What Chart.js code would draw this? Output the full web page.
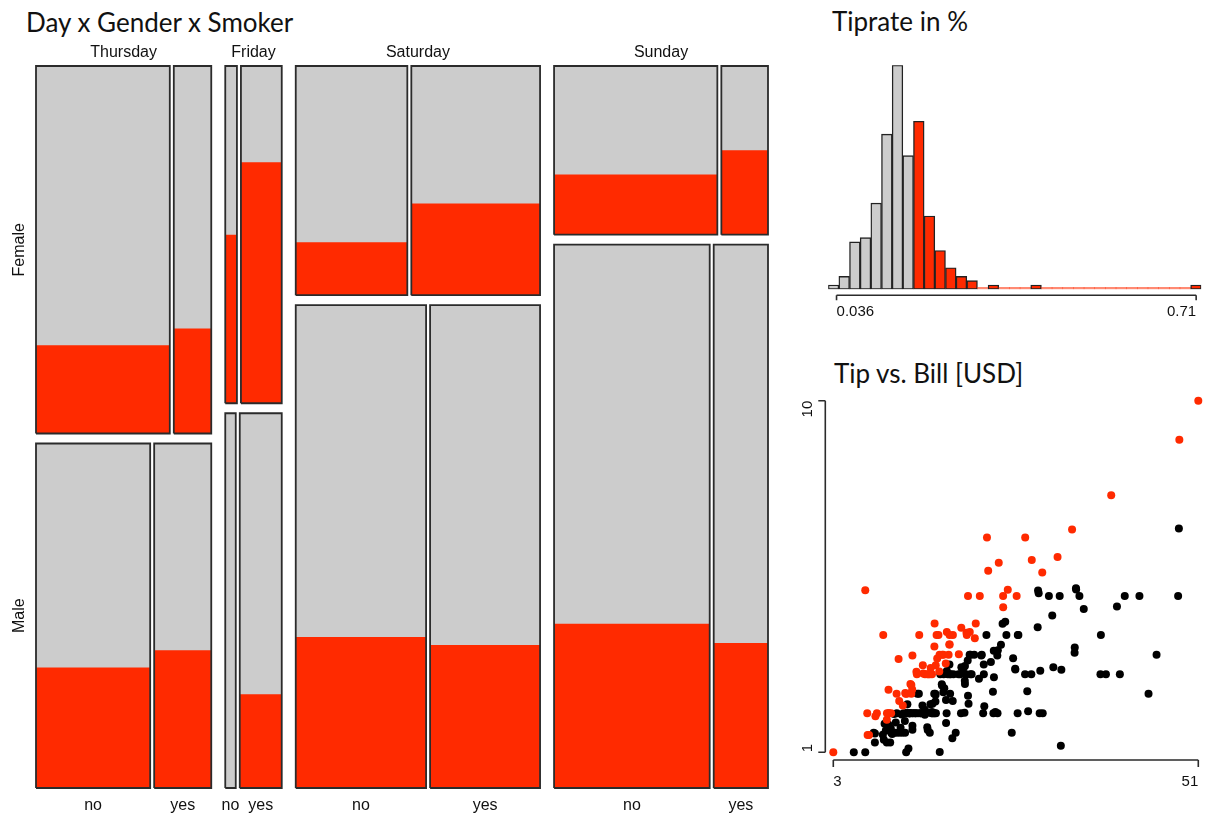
<!DOCTYPE html>
<html>
<head>
<meta charset="utf-8">
<title>Tips</title>
<script src="https://cdn.jsdelivr.net/npm/chart.js@4.4.1/dist/chart.umd.min.js"></script>
<style>
  body { margin: 0; background: #fff; width: 1209px; height: 814px; position: relative; overflow: hidden; }
  canvas { position: absolute; }
  h2 { position: absolute; margin: 0; font: 26px Lato, sans-serif; font-weight: normal; line-height: 1; color: #111; white-space: nowrap; }
</style>
</head>
<body>
<h2 style="left:26px;top:9px">Day x Gender x Smoker</h2>
<h2 style="left:832px;top:8px">Tiprate in %</h2>
<h2 style="left:834px;top:360px">Tip vs. Bill [USD]</h2>
<canvas id="mosaic" width="800" height="814" style="left:0;top:0"></canvas>
<canvas id="hist" width="409" height="340" style="left:800px;top:0"></canvas>
<canvas id="scatter" width="409" height="474" style="left:800px;top:340px"></canvas>
<script>
// mosaic: guests per day, split by gender and smoker
const days = ['Thursday', 'Friday', 'Saturday', 'Sunday'];
const genders = ['Female', 'Male'];
const smokers = ['no', 'yes'];
const femaleNo = [25, 2, 13, 14];
const femaleYes = [7, 7, 15, 4];
const maleNo = [20, 2, 32, 43];
const maleYes = [10, 8, 27, 15];
// how many of them tipped 18% or more (red selection)
const femaleNoHigh = [6, 1, 3, 5];
const femaleYesHigh = [2, 5, 6, 2];
const maleNoHigh = [7, 0, 10, 13];
const maleYesHigh = [4, 2, 8, 4];

// histogram of tip rate, bins of 0.02 starting at 0.02
const binStart = 0.02;
const binWidth = 0.02;
const binCounts = [1, 3, 11, 12, 20, 36, 52, 31, 39, 17, 9, 5, 3, 2, 0, 1, 0, 0, 0, 1,
  0, 0, 0, 0, 0, 0, 0, 0, 0, 0, 0, 0, 0, 0, 1];
const rateCut = 0.18;
const rateAxisLabels = ['0.036', '0.71'];

// tip vs bill
const billUSD = [16.99,10.34,21.01,23.68,24.59,25.29,8.77,26.88,15.04,14.78,10.27,35.26,15.42,18.43,14.83,21.58,10.33,16.29,16.97,20.65,
  17.92,20.29,15.77,39.42,19.82,17.81,13.37,12.69,21.70,19.65,9.55,18.35,15.06,20.69,17.78,24.06,16.31,16.93,18.69,31.27,
  16.04,17.46,13.94,9.68,30.40,18.29,22.23,32.40,28.55,18.04,12.54,10.29,34.81,9.94,25.56,19.49,38.01,26.41,11.24,48.27,
  20.29,13.81,11.02,18.29,17.59,20.08,16.45,3.07,20.23,15.01,12.02,17.07,26.86,25.28,14.73,10.51,17.92,27.20,22.76,17.29,
  19.44,16.66,10.07,32.68,15.98,34.83,13.03,18.28,24.71,21.16,28.97,22.49,5.75,16.32,22.75,40.17,27.28,12.03,21.01,12.46,
  11.35,15.38,44.30,22.42,20.92,15.36,20.49,25.21,18.24,14.31,14.00,7.25,38.07,23.95,25.71,17.31,29.93,10.65,12.43,24.08,
  11.69,13.42,14.26,15.95,12.48,29.80,8.52,14.52,11.38,22.82,19.08,20.27,11.17,12.26,18.26,8.51,10.33,14.15,16.00,13.16,
  17.47,34.30,41.19,27.05,16.43,8.35,18.64,11.87,9.78,7.51,14.07,13.13,17.26,24.55,19.77,29.85,48.17,25.00,13.39,16.49,
  21.50,12.66,16.21,13.81,17.51,24.52,20.76,31.71,10.59,10.63,50.81,15.81,7.25,31.85,16.82,32.90,17.89,14.48,9.60,34.63,
  34.65,23.33,45.35,23.17,40.55,20.69,20.90,30.46,18.15,23.10,15.69,19.81,28.44,15.48,16.58,7.56,10.34,43.11,13.00,13.51,
  18.71,12.74,13.00,16.40,20.53,16.47,26.59,38.73,24.27,12.76,30.06,25.89,48.33,13.27,28.17,12.90,28.15,11.59,7.74,30.14,
  12.16,13.42,8.58,15.98,13.42,16.27,10.09,20.45,13.28,22.12,24.01,15.69,11.61,10.77,15.53,10.07,12.60,32.83,35.83,29.03,
  27.18,22.67,17.82,18.78];
const tipUSD = [1.01,1.66,3.50,3.31,3.61,4.71,2.00,3.12,1.96,3.23,1.71,5.00,1.57,3.00,3.02,3.92,1.67,3.71,3.50,3.35,
  4.08,2.75,2.23,7.58,3.18,2.34,2.00,2.00,4.30,3.00,1.45,2.50,3.00,2.45,3.27,3.60,2.00,3.07,2.31,5.00,
  2.24,2.54,3.06,1.32,5.60,3.00,5.00,6.00,2.05,3.00,2.50,2.60,5.20,1.56,4.34,3.51,3.00,1.50,1.76,6.73,
  3.21,2.00,1.98,3.76,2.64,3.15,2.47,1.00,2.01,2.09,1.97,3.00,3.14,5.00,2.20,1.25,3.08,4.00,3.00,2.71,
  3.00,3.40,1.83,5.00,2.03,5.17,2.00,4.00,5.85,3.00,3.00,3.50,1.00,4.30,3.25,4.73,4.00,1.50,3.00,1.50,
  2.50,3.00,2.50,3.48,4.08,1.64,4.06,4.29,3.76,4.00,3.00,1.00,4.00,2.55,4.00,3.50,5.07,1.50,1.80,2.92,
  2.31,1.68,2.50,2.00,2.52,4.20,1.48,2.00,2.00,2.18,1.50,2.83,1.50,2.00,3.25,1.25,2.00,2.00,2.00,2.75,
  3.50,6.70,5.00,5.00,2.30,1.50,1.36,1.63,1.73,2.00,2.50,2.00,2.74,2.00,2.00,5.14,5.00,3.75,2.61,2.00,
  3.50,2.50,2.00,2.00,3.00,3.48,2.24,4.50,1.61,2.00,10.00,3.16,5.15,3.18,4.00,3.11,2.00,2.00,4.00,3.55,
  3.68,5.65,3.50,6.50,3.00,5.00,3.50,2.00,3.50,4.00,1.50,4.19,2.56,2.02,4.00,1.44,2.00,5.00,2.00,2.00,
  4.00,2.01,2.00,2.50,4.00,3.23,3.41,3.00,2.03,2.23,2.00,5.16,9.00,2.50,6.50,1.10,3.00,1.50,1.44,3.09,
  2.20,3.48,1.92,3.00,1.58,2.50,2.00,3.00,2.72,2.88,2.00,3.00,3.39,1.47,3.00,1.25,1.00,1.17,4.67,5.92,
  2.00,2.00,1.75,3.00];
const billAxisLabels = ['3', '51'];
const tipAxisLabels = ['1', '10'];

const RED = '#ff2a00';
const GREY = '#cccccc';
const EDGE = '#2b2b2b';
const SMALL = '"Liberation Sans", Arial, sans-serif';

// ---- mosaic layout (in pixel-like data units) ----
const W = 732, H = 722, dayGap = 14, sexGap = 10, smokeGap = 4;
const dayN = days.map((d, i) => femaleNo[i] + femaleYes[i] + maleNo[i] + maleYes[i]);
const totalN = dayN.reduce((a, b) => a + b, 0);
const unit = (W - dayGap * (days.length - 1) - smokeGap * days.length) / totalN;
const cells = [];
const dayMid = [];
let cx = 0;
days.forEach((d, i) => {
  const w = smokeGap + unit * dayN[i];
  dayMid.push(cx + w / 2);
  const rows = [
    [femaleNo[i], femaleYes[i], femaleNoHigh[i], femaleYesHigh[i]],
    [maleNo[i], maleYes[i], maleNoHigh[i], maleYesHigh[i]]
  ];
  const hF = (H - sexGap) * (rows[0][0] + rows[0][1]) / dayN[i];
  const bands = [[H - hF, H], [0, H - hF - sexGap]];
  rows.forEach((r, g) => {
    const [b0, b1] = bands[g];
    const wNo = (w - smokeGap) * r[0] / (r[0] + r[1]);
    const parts = [[cx, cx + wNo, r[0], r[2]], [cx + wNo + smokeGap, cx + w, r[1], r[3]]];
    parts.forEach(([x0, x1, cnt, hi], s) => {
      cells.push({ day: i, sex: g, smoker: s, x0, x1, y0: b0, y1: b1, red: b0 + (b1 - b0) * hi / cnt });
    });
  });
  cx += w + dayGap;
});

const mosaicSets = [];
cells.forEach(c => {
  mosaicSets.push({ data: [{ x: c.x0, y: c.y1 }, { x: c.x1, y: c.y1 }], fill: { value: c.y0 },
    backgroundColor: GREY, borderColor: 'transparent', borderWidth: 0, order: 2 });
  if (c.red > c.y0) {
    mosaicSets.push({ data: [{ x: c.x0, y: c.red }, { x: c.x1, y: c.red }], fill: { value: c.y0 },
      backgroundColor: RED, borderColor: 'transparent', borderWidth: 0, order: 1 });
  }
  mosaicSets.push({ data: [{ x: c.x0, y: c.y0 }, { x: c.x1, y: c.y0 }, { x: c.x1, y: c.y1 }, { x: c.x0, y: c.y1 }, { x: c.x0, y: c.y0 }],
    fill: false, borderColor: EDGE, borderWidth: 1.8, borderJoinStyle: 'miter', order: 0 });
});

const mosaicLabels = {
  id: 'mosaicLabels',
  afterDraw(chart) {
    const { ctx, chartArea: a, scales: { x, y } } = chart;
    ctx.save();
    ctx.fillStyle = '#111';
    ctx.font = '16px ' + SMALL;
    ctx.textAlign = 'center';
    ctx.textBaseline = 'middle';
    days.forEach((d, i) => ctx.fillText(d, x.getPixelForValue(dayMid[i]), a.top - 13));
    cells.filter(c => c.sex === 1).forEach(c => {
      ctx.fillText(smokers[c.smoker], x.getPixelForValue((c.x0 + c.x1) / 2), a.bottom + 18);
    });
    cells.filter(c => c.day === 0 && c.smoker === 0).forEach(c => {
      ctx.save();
      ctx.translate(a.left - 16, y.getPixelForValue((c.y0 + c.y1) / 2));
      ctx.rotate(-Math.PI / 2);
      ctx.fillText(genders[c.sex], 0, 0);
      ctx.restore();
    });
    ctx.restore();
  }
};

// R-like axes: a line between first and last tick, labels kept inside
const rAxis = {
  id: 'rAxis',
  afterDraw(chart, args, opts) {
    const { ctx, chartArea: a, scales } = chart;
    ctx.save();
    ctx.strokeStyle = EDGE;
    ctx.lineWidth = 1.6;
    ctx.fillStyle = '#111';
    ctx.font = '15px ' + SMALL;
    ctx.textBaseline = 'middle';
    if (opts.x) {
      const o = opts.x, yy = a.bottom + o.gap;
      const p = o.ticks.map(v => scales.x.getPixelForValue(v));
      ctx.beginPath();
      ctx.moveTo(p[0], yy);
      ctx.lineTo(p[p.length - 1], yy);
      p.forEach(px => { ctx.moveTo(px, yy); ctx.lineTo(px, yy + o.len); });
      ctx.stroke();
      o.labels.forEach((t, i) => {
        ctx.textAlign = i === 0 ? 'left' : 'right';
        ctx.fillText(t, p[i], yy + o.label);
      });
    }
    if (opts.y) {
      const o = opts.y, xx = a.left - o.gap;
      const p = o.ticks.map(v => scales.y.getPixelForValue(v));
      ctx.beginPath();
      ctx.moveTo(xx, p[0]);
      ctx.lineTo(xx, p[p.length - 1]);
      p.forEach(py => { ctx.moveTo(xx, py); ctx.lineTo(xx - o.len, py); });
      ctx.stroke();
      o.labels.forEach((t, i) => {
        ctx.save();
        ctx.translate(xx - o.label, p[i]);
        ctx.rotate(-Math.PI / 2);
        ctx.textAlign = i === 0 ? 'left' : 'right';
        ctx.fillText(t, 0, 0);
        ctx.restore();
      });
    }
    ctx.restore();
  }
};

const quiet = {
  responsive: false,
  animation: false,
  events: [],
  plugins: { legend: { display: false }, tooltip: { enabled: false } }
};

new Chart(document.getElementById('mosaic'), {
  type: 'line',
  data: { datasets: mosaicSets },
  options: {
    ...quiet,
    layout: { padding: { left: 36, right: 32, top: 66, bottom: 26 } },
    elements: { point: { radius: 0 }, line: { tension: 0 } },
    datasets: { line: { clip: false } },
    scales: {
      x: { type: 'linear', min: 0, max: W, display: false },
      y: { type: 'linear', min: 0, max: H, display: false }
    }
  },
  plugins: [mosaicLabels]
});

// histogram
const rates = billUSD.map((b, i) => tipUSD[i] / b);
const binData = binCounts.map((c, i) => ({ x: binStart + binWidth * (i + 0.5), y: c }));
const binHigh = binCounts.map((c, i) => binStart + binWidth * i >= rateCut - 1e-9);
new Chart(document.getElementById('hist'), {
  type: 'bar',
  data: {
    datasets: [{
      data: binData,
      backgroundColor: binCounts.map((c, i) => binHigh[i] ? (c === 0 ? 'rgba(255,42,0,0.55)' : RED) : GREY),
      borderColor: binCounts.map(c => c === 0 ? 'rgba(0,0,0,0)' : '#222'),
      borderWidth: binCounts.map(c => c === 0 ? 0 : 1.4),
      borderSkipped: false,
      minBarLength: 2,
      categoryPercentage: 1,
      barPercentage: 1
    }]
  },
  options: {
    ...quiet,
    plugins: {
      ...quiet.plugins,
      rAxis: { x: { ticks: [Math.min(...rates), Math.max(...rates)], labels: rateAxisLabels, gap: 6, len: 5, label: 17 } }
    },
    layout: { padding: { left: 28.2, right: 7.7, top: 65.2, bottom: 50.7 } },
    scales: {
      x: { type: 'linear', offset: false, min: binStart, max: binStart + binWidth * binCounts.length, display: false },
      y: { min: 0, max: Math.max(...binCounts), display: false }
    }
  },
  plugins: [rAxis]
});

// scatter
const highPts = [], lowPts = [];
billUSD.forEach((b, i) => (tipUSD[i] / b >= rateCut ? highPts : lowPts).push({ x: b, y: tipUSD[i] }));
new Chart(document.getElementById('scatter'), {
  type: 'scatter',
  data: {
    datasets: [
      { data: highPts, backgroundColor: RED, pointRadius: 4, pointBorderWidth: 0, clip: false },
      { data: lowPts, backgroundColor: '#000', pointRadius: 4, pointBorderWidth: 0, clip: false }
    ]
  },
  options: {
    ...quiet,
    plugins: {
      ...quiet.plugins,
      rAxis: {
        x: { ticks: [Math.min(...billUSD), Math.max(...billUSD)], labels: billAxisLabels, gap: 7.7, len: 7, label: 22 },
        y: { ticks: [Math.min(...tipUSD), Math.max(...tipUSD)], labels: tipAxisLabels, gap: 8, len: 7, label: 17 }
      }
    },
    layout: { padding: { left: 33.3, right: 10.7, top: 60.7, bottom: 61.7 } },
    scales: {
      x: { type: 'linear', min: Math.min(...billUSD), max: Math.max(...billUSD), display: false },
      y: { type: 'linear', min: Math.min(...tipUSD), max: Math.max(...tipUSD), display: false }
    }
  },
  plugins: [rAxis]
});
</script>
</body>
</html>
